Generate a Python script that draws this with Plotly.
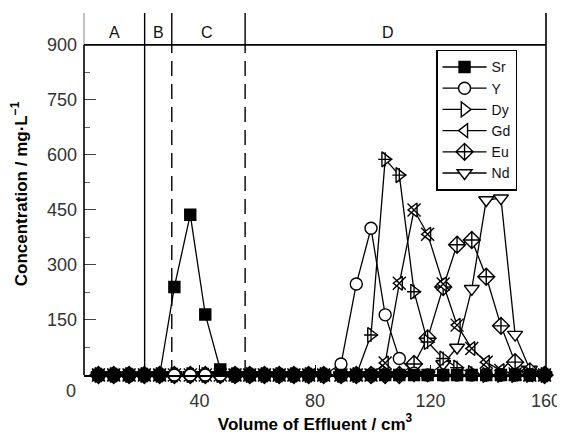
import plotly.graph_objects as go

# Effluent volume (cm3) of each collected fraction
volume = [5.0, 10.3, 15.6, 20.9, 26.2, 31.3, 36.8, 42.0, 47.2, 52.3, 57.4, 62.5, 67.6, 72.7, 77.8, 83.0,
          89.0, 94.3, 99.4, 104.3, 109.2, 114.3, 119.0, 124.4, 129.2, 134.3, 139.3, 144.4, 149.3, 154.4, 159.5]

sr = [0, 0, 0, 0, 0, 240, 437, 165, 15, 0, 0, 0, 0, 0, 0, 0,
      0, 0, 0, 0, 0, 0, 0, 0, 0, 0, 0, 0, 0, 0, 0]
y_ = [0, 0, 0, 0, 0, 0, 0, 0, 0, 0, 0, 0, 0, 0, 0, 0,
      30, 248, 400, 164, 45, 5, 0, 0, 0, 0, 0, 0, 0, 0, 0]
dy = [0, 0, 0, 0, 0, 0, 0, 0, 0, 0, 0, 0, 0, 0, 0, 0,
      0, 0, 109, 588, 545, 227, 90, 45, 20, 5, 0, 0, 0, 0, 0]
gd = [0, 0, 0, 0, 0, 0, 0, 0, 0, 0, 0, 0, 0, 0, 0, 0,
      0, 0, 0, 33, 250, 450, 384, 248, 136, 72, 35, 12, 3, 0, 0]
eu = [0, 0, 0, 0, 0, 0, 0, 0, 0, 0, 0, 0, 0, 0, 0, 0,
      0, 0, 0, 0, 0, 30, 100, 240, 355, 368, 268, 134, 35, 10, 0]
nd = [0, 0, 0, 0, 0, 0, 0, 0, 0, 0, 0, 0, 0, 0, 0, 0,
      0, 0, 0, 0, 0, 0, 0, 30, 75, 235, 477, 482, 110, 15, 0]

names = ["Sr", "Y", "Dy", "Gd", "Eu", "Nd"]
series = [sr, y_, dy, gd, eu, nd]
symbols = ["square", "circle", "triangle-right", "triangle-left", "diamond-cross", "triangle-down"]
fills = ["black", "white", "white", "white", "white", "white"]
sizes = [11, 12, 13, 12, 13, 13]

y_ticks = [150, 300, 450, 600, 750, 900]
x_ticks = [40, 80, 120, 160]
region_bounds = [21.0, 30.4, 55.8]
region_labels = ["A", "B", "C", "D"]
region_label_x = [10.7, 25.7, 42.5, 105.4]

FONT = "Liberation Sans, Arial, sans-serif"
YTOP = 987

fig = go.Figure()
# draw in reverse so that the filled Sr squares sit on top of the baseline
for name, vals, sym, fc, sz in reversed(list(zip(names, series, symbols, fills, sizes))):
    fig.add_trace(go.Scatter(
        x=volume, y=vals, name=name, mode="lines+markers", cliponaxis=False,
        line=dict(color="black", width=1.3),
        marker=dict(symbol=sym, size=sz, color=fc, line=dict(color="black", width=1.4)),
    ))
    if name == "Dy":
        fig.add_trace(go.Scatter(x=volume, y=vals, mode="markers", showlegend=False, cliponaxis=False,
                                 marker=dict(symbol="cross-thin-open", size=10, color="black",
                                             line=dict(color="black", width=1.3))))
    if name == "Gd":
        fig.add_trace(go.Scatter(x=volume, y=vals, mode="markers", showlegend=False, cliponaxis=False,
                                 marker=dict(symbol="x-thin-open", size=13, color="black",
                                             line=dict(color="black", width=1.4))))

shapes = []
shapes.append(dict(type="line", xref="paper", yref="y", x0=0, x1=0, y0=0, y1=900,
                   line=dict(color="black", width=1.6)))
shapes.append(dict(type="line", xref="paper", yref="y", x0=0, x1=0, y0=900, y1=YTOP,
                   line=dict(color="#aaaaaa", width=1.4)))
shapes.append(dict(type="line", xref="paper", yref="y", x0=0, x1=1, y0=900, y1=900,
                   line=dict(color="black", width=1.6)))
shapes.append(dict(type="line", xref="paper", yref="y", x0=1, x1=1, y0=0, y1=YTOP,
                   line=dict(color="black", width=1.6)))
shapes.append(dict(type="line", xref="x", yref="y", x0=region_bounds[0], x1=region_bounds[0], y0=0, y1=YTOP,
                   line=dict(color="black", width=1.4), layer="below"))
for b in region_bounds[1:]:
    shapes.append(dict(type="line", xref="x", yref="y", x0=b, x1=b, y0=0, y1=900,
                       line=dict(color="black", width=1.4, dash="15px,8px"), layer="below"))
    shapes.append(dict(type="line", xref="x", yref="y", x0=b, x1=b, y0=900, y1=YTOP,
                       line=dict(color="black", width=1.4), layer="below"))

annotations = [dict(x=xx, y=933, xref="x", yref="y", text=t, showarrow=False,
                    font=dict(family=FONT, size=16, color="#111"))
               for xx, t in zip(region_label_x, region_labels)]
annotations.append(dict(x=-0.012, y=-0.045, xref="paper", yref="paper", text="0", showarrow=False,
                        xanchor="right", yanchor="middle", font=dict(family=FONT, size=18, color="#333")))

# the page body has an 8px margin, so the figure is sized 8px smaller than the window
fig.update_layout(
    width=557, height=426,
    margin=dict(l=76, r=19, t=5, b=59, autoexpand=False),
    paper_bgcolor="white", plot_bgcolor="white",
    font=dict(family=FONT, color="black"),
    showlegend=True,
    legend=dict(x=0.762, y=0.898, xanchor="left", yanchor="top", traceorder="reversed",
                bgcolor="white", bordercolor="black", borderwidth=1.5,
                font=dict(family=FONT, size=14, color="#111"),
                itemwidth=44, tracegroupgap=0),
    shapes=shapes,
    annotations=annotations,
    xaxis=dict(range=[0, 160], tickvals=x_ticks, ticks="inside", ticklen=10, tickwidth=1.4,
               tickcolor="black", showline=True, linecolor="black", linewidth=1.6,
               showgrid=False, zeroline=False, ticklabelstandoff=9, automargin=False,
               tickfont=dict(family=FONT, size=18, color="#333"),
               title=dict(text="<b>Volume of Effluent / cm<sup>3</sup></b>", standoff=0,
                          font=dict(family=FONT, size=17, color="black"))),
    yaxis=dict(range=[0, YTOP], tickvals=y_ticks, ticks="inside", ticklen=12, tickwidth=1.3,
               tickcolor="#444", showline=False, showgrid=False, zeroline=False,
               ticklabelstandoff=6, automargin=False,
               minor=dict(tickvals=[75, 225, 375, 525, 675, 825], ticks="inside", ticklen=6,
                          tickcolor="#666", tickwidth=1.1),
               tickfont=dict(family=FONT, size=18, color="#333"),
               title=dict(text="<b>Concentration / mg·L<sup>−1</sup></b>", standoff=15,
                          font=dict(family=FONT, size=17, color="black"))),
)

fig.write_html("out.html")
